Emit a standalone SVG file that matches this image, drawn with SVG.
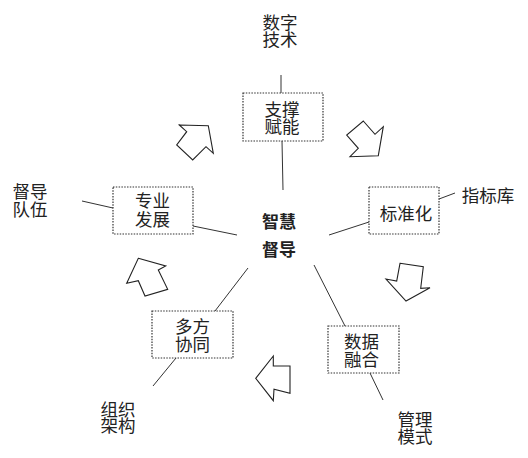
<svg xmlns="http://www.w3.org/2000/svg" width="528" height="458" viewBox="0 0 528 458">
<style>
text{font-family:"Noto Sans CJK SC","Liberation Sans",sans-serif;font-size:17.5px;fill:#222;text-anchor:middle}
.c{font-weight:bold;font-size:17px}
.box{fill:#fff;stroke:#333;stroke-width:1.2;stroke-dasharray:1.5 1.3}
.ln{stroke:#333;stroke-width:1;fill:none}
.arr{fill:#fff;stroke:#222;stroke-width:1.1;stroke-linejoin:miter}
</style>
<rect width="528" height="458" fill="#fff"/>
<g id="connectors">
<line class="ln" x1="281" y1="75" x2="281" y2="93"/>
<line class="ln" x1="282" y1="141" x2="283" y2="190"/>
<line class="ln" x1="82" y1="201" x2="113" y2="208"/>
<line class="ln" x1="193" y1="226" x2="237" y2="235"/>
<line class="ln" x1="439" y1="199" x2="455" y2="193"/>
<line class="ln" x1="369" y1="222" x2="329" y2="235"/>
<line class="ln" x1="248" y1="268" x2="215" y2="311"/>
<line class="ln" x1="176" y1="358" x2="153" y2="386"/>
<line class="ln" x1="314" y1="265" x2="345" y2="326"/>
<line class="ln" x1="370" y1="373" x2="383" y2="400"/>
</g>
<g id="arrows">
<polygon class="arr" points="179.3,125 208.3,125.7 213.3,153.3 206,146.7 192.7,160 176.7,145 186.7,131.7"/>
<polygon class="arr" points="363.3,121 375,134.3 383.3,126.7 378.3,155.7 350,156.7 358.3,148.3 346.7,135"/>
<polygon class="arr" points="400,263.3 423.3,266.7 420.7,288.3 430,287.7 406,301 386,279 396.7,281"/>
<polygon class="arr" points="255.7,378.3 273.3,356 273.3,366 290,366 290,393.3 274,389.3 273.3,400.7"/>
<polygon class="arr" points="138.3,258.3 165.7,266 158.3,270 167.7,289.3 145,296 138.3,280.7 126.7,283.3"/>
</g>
<g id="n-center"><text class="c"><tspan x="279" y="228">智慧</tspan><tspan x="279" y="255.5">督导</tspan></text></g>
<g id="n-top"><text><tspan x="280" y="29">数字</tspan><tspan x="280" y="46">技术</tspan></text></g>
<g id="n-zhicheng"><rect class="box" x="243" y="93" width="80" height="48"/><text><tspan x="282" y="115.5">支撑</tspan><tspan x="282" y="132.5">赋能</tspan></text></g>
<g id="n-duiwu"><text><tspan x="30" y="198">督导</tspan><tspan x="30" y="215.5">队伍</tspan></text></g>
<g id="n-zhuanye"><rect class="box" x="113" y="187" width="80" height="47"/><text><tspan x="152.5" y="207">专业</tspan><tspan x="152.5" y="226">发展</tspan></text></g>
<g id="n-biaozhun"><rect class="box" x="369" y="187" width="70" height="47"/><text x="406" y="220">标准化</text></g>
<g id="n-zhibiao"><text x="488" y="202">指标库</text></g>
<g id="n-duofang"><rect class="box" x="152" y="311" width="81" height="47"/><text><tspan x="192.5" y="332.5">多方</tspan><tspan x="192.5" y="350.5">协同</tspan></text></g>
<g id="n-zuzhi"><text><tspan x="118" y="415.5">组织</tspan><tspan x="118" y="432">架构</tspan></text></g>
<g id="n-shuju"><rect class="box" x="328" y="326" width="71" height="47"/><text><tspan x="361.5" y="347.5">数据</tspan><tspan x="361.5" y="365.5">融合</tspan></text></g>
<g id="n-guanli"><text><tspan x="415" y="425.5">管理</tspan><tspan x="415" y="443">模式</tspan></text></g>
</svg>
